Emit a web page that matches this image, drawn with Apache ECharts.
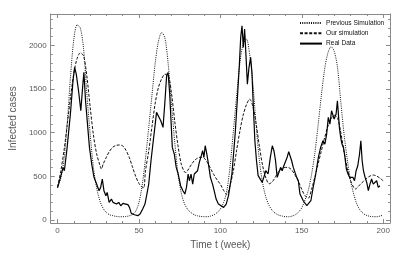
<!DOCTYPE html>
<html>
<head>
<meta charset="utf-8">
<script src="https://cdn.jsdelivr.net/npm/echarts@6/dist/echarts.min.js"></script>
<style>
html,body{margin:0;padding:0;background:#fff;}
#c{width:408px;height:260px;}
</style>
</head>
<body>
<div id="c"></div>
<script>
// ---- data ----
var seriesNames = ['Previous Simulation', 'Our simulation', 'Real Data'];
var xTicks = [0, 50, 100, 150, 200];
var yTicks = [0, 500, 1000, 1500, 2000];

var prevT = [0,2,4,6,8,10,12,14,16,18,20,22,24,26,28,30,32,34,36,38,40,42,44,46,48,50,52,54,56,58,60,62,64,66,68,70,72,74,76,78,80,82,84,86,88,90,92,94,96,98,100,102,104,106,108,110,112,114,116,118,120,122,124,126,128,130,132,134,136,138,140,142,144,146,148,150,152,154,156,158,160,162,164,166,168,170,172,174,176,178,180,182,184,186,188,190,192,194,196,198,200];
var prevV = [374,480,700,1120,1650,2070,2235,2200,1960,1450,990,610,370,220,135,85,60,50,42,38,38,40,48,62,100,200,400,700,1060,1430,1800,2050,2148,2080,1780,1330,890,530,310,185,120,85,60,48,42,38,38,45,60,85,126,200,336,620,1020,1420,1800,2015,2073,1900,1560,1080,680,420,260,165,107,75,55,45,38,38,45,60,90,140,230,340,520,760,1080,1420,1720,1910,1985,1930,1740,1350,980,690,450,290,175,110,72,52,42,38,38,45,57];

var ourT = [0,2,4,6,8,10,12,14,16,18,20,22,24,26,27,28,30,32,34,36,38,40,42,44,46,48,50,52,53,54,56,58,60,62,64,66,68,70,72,74,76,78,79,80,82,84,86,88,90,92,94,96,98,100,102,104,106,108,110,112,114,116,118,120,122,124,126,128,130,132,134,136,138,140,142,144,146,148,150,152,154,156,158,160,162,164,166,168,170,172,174,176,178,180,182,183,184,186,188,190,192,194,196,198,200];
var ourV = [380,560,800,1100,1410,1680,1850,1915,1880,1650,1300,980,760,630,584,640,720,790,835,855,860,850,800,720,610,500,420,375,370,560,790,1070,1340,1520,1620,1670,1660,1450,1130,850,640,550,545,570,630,680,710,720,710,660,590,520,460,410,340,290,400,565,800,1020,1200,1320,1385,1300,1100,840,620,480,415,440,500,560,590,603,600,570,510,440,350,280,250,350,490,640,790,940,1070,1160,1200,1170,1000,780,590,450,370,355,370,410,445,480,505,515,505,480,450];

var realT = [0,1.8,3.4,4.2,5.9,7.9,9.5,10.5,11.5,12.9,14.3,15.4,16.2,17.2,18.4,19.6,21,22.4,24,25.5,26.5,27.5,28.5,29.7,30.5,31.7,33.1,34.1,35.2,36.2,37.6,38.8,40.2,41.8,43.2,44.2,45.3,47.3,49.3,50.7,52.3,53.7,54.7,56,57.4,58.8,60,60.8,62,63.4,64.8,66,67,67.9,68.9,69.7,70.5,71.7,72.9,74.1,75.6,77,78.2,79.2,80.2,81,82,83,84,85,86,87.1,88.3,89.1,89.9,90.7,91.7,92.7,93.9,95.2,96.2,97.4,98.8,100,102,103.6,105,107.1,109.1,110.5,111.7,112.5,113.3,114.1,114.9,115.8,116.6,117.6,118.6,119.4,120.2,121.2,122.2,123.2,124.2,125.7,126.7,127.9,129.3,130.7,131.9,132.9,133.9,134.9,136,137,138,139,140,141,142,143,143.8,144.8,145.9,146.9,147.9,148.9,149.9,150.9,152.1,153.1,154.1,155.6,157,158.6,160.2,161.6,163,164.2,165.3,166.3,167.3,168.3,169.1,169.9,171.1,171.9,172.5,173.1,173.9,174.7,175.6,176.4,177.4,178.4,179.4,180.4,181.4,182.4,183.4,184.4,185.5,186.3,187.1,187.9,188.9,189.9,190.9,191.9,192.9,193.9,194.9,196,197,198];
var realV = [370,488,603,565,832,1214,1595,1748,1672,1481,1252,1519,1691,1366,1099,832,641,489,412,336,374,470,336,279,317,202,240,202,221,183,202,164,191,183,176,145,76,61,50,69,126,183,279,412,679,908,1099,1233,1214,1137,1061,1366,1653,1691,1443,1137,832,756,603,527,393,336,298,374,527,450,527,412,527,546,565,660,737,794,717,851,756,641,489,412,336,240,183,164,145,183,279,527,985,1405,1786,2092,2225,1977,2187,1863,1557,1748,1863,1691,1328,908,679,508,489,431,489,565,527,717,851,794,679,489,546,603,565,622,603,717,782,775,679,603,622,489,450,298,260,221,202,164,145,221,374,527,717,832,908,870,985,1176,1099,1252,1271,1157,1214,1366,1347,1061,947,870,832,737,584,527,489,508,489,450,565,622,756,908,679,565,489,431,336,412,470,412,393,450,374,393];

function pairs(t, v) { var out = []; for (var i = 0; i < t.length; i++) out.push([t[i], v[i]]); return out; }
function range(a, b, s) { var out = []; for (var x = a; x <= b + 1e-9; x += s) out.push(x); return out; }

var X_MIN = -4.2, X_MAX = 204.2, Y_MIN = -34, Y_MAX = 2360;
var xMinor = range(10, 190, 10).filter(function (v) { return v % 50 !== 0; });
var yMinor = range(100, 2300, 100).filter(function (v) { return v % 500 !== 0; });
var frameColor = '#8a8a8a';
var labelColor = '#5a5a5a';
var fontFam = '"Liberation Sans", Arial, Helvetica, sans-serif';
function plain(v) { return String(v); }

function xAx(pos, ticks, len, main) {
  return {
    type: 'value', position: pos, min: X_MIN, max: X_MAX,
    name: main ? 'Time t (week)' : '', nameLocation: 'middle', nameGap: 15,
    nameTextStyle: { color: labelColor, fontSize: 10, fontFamily: fontFam },
    axisLine: { show: len > 3, onZero: false, lineStyle: { color: frameColor, width: 1 } },
    axisTick: { show: true, inside: true, length: len, customValues: ticks, lineStyle: { color: frameColor, width: 1 } },
    axisLabel: { show: !!main, customValues: ticks, formatter: plain, color: labelColor, fontSize: 8, fontFamily: fontFam, margin: 4 },
    splitLine: { show: false }
  };
}
function yAx(pos, ticks, len, main) {
  return {
    type: 'value', position: pos, min: Y_MIN, max: Y_MAX,
    name: main ? 'Infected cases' : '', nameLocation: 'middle', nameGap: 31, nameRotate: 90,
    nameTextStyle: { color: labelColor, fontSize: 10, fontFamily: fontFam },
    axisLine: { show: len > 3, onZero: false, lineStyle: { color: frameColor, width: 1 } },
    axisTick: { show: true, inside: true, length: len, customValues: ticks, lineStyle: { color: frameColor, width: 1 } },
    axisLabel: { show: !!main, customValues: ticks, formatter: plain, color: labelColor, fontSize: 8, fontFamily: fontFam, margin: 4 },
    splitLine: { show: false }
  };
}

var chart = echarts.init(document.getElementById('c'), null, { renderer: 'canvas' });
chart.setOption({
  animation: false,
  backgroundColor: '#ffffff',
  grid: { left: 46, right: 18, top: 14, bottom: 37, containLabel: false },
  xAxis: [
    xAx('bottom', xTicks, 4, true),
    xAx('bottom', xMinor, 2, false),
    xAx('top', xTicks, 4, false),
    xAx('top', xMinor, 2, false)
  ],
  yAxis: [
    yAx('left', yTicks, 4, true),
    yAx('left', yMinor, 2, false),
    yAx('right', yTicks, 4, false),
    yAx('right', yMinor, 2, false)
  ],
  legend: {
    orient: 'vertical', left: 299, top: 19.5, padding: 0, itemWidth: 22, itemHeight: 8, itemGap: 3.3,
    itemStyle: { opacity: 0, borderWidth: 0 },
    textStyle: { color: '#111', fontSize: 6.6, fontFamily: fontFam, padding: [0, 0, 0, -1] },
    data: seriesNames
  },
  series: [
    {
      name: seriesNames[0], type: 'line', data: pairs(prevT, prevV), smooth: 0.3,
      showSymbol: false, symbol: 'none', xAxisIndex: 0, yAxisIndex: 0,
      lineStyle: { color: '#111', width: 1, type: [1, 1.2] }, itemStyle: { color: '#111' }
    },
    {
      name: seriesNames[1], type: 'line', data: pairs(ourT, ourV), smooth: 0.3,
      showSymbol: false, symbol: 'none', xAxisIndex: 0, yAxisIndex: 0,
      lineStyle: { color: '#111', width: 1, type: [3, 1.6] }, itemStyle: { color: '#111' }
    },
    {
      name: seriesNames[2], type: 'line', data: pairs(realT, realV), smooth: false,
      showSymbol: false, symbol: 'none', xAxisIndex: 0, yAxisIndex: 0,
      lineStyle: { color: '#000', width: 1.2 }, itemStyle: { color: '#000' }
    }
  ]
});
</script>
</body>
</html>
